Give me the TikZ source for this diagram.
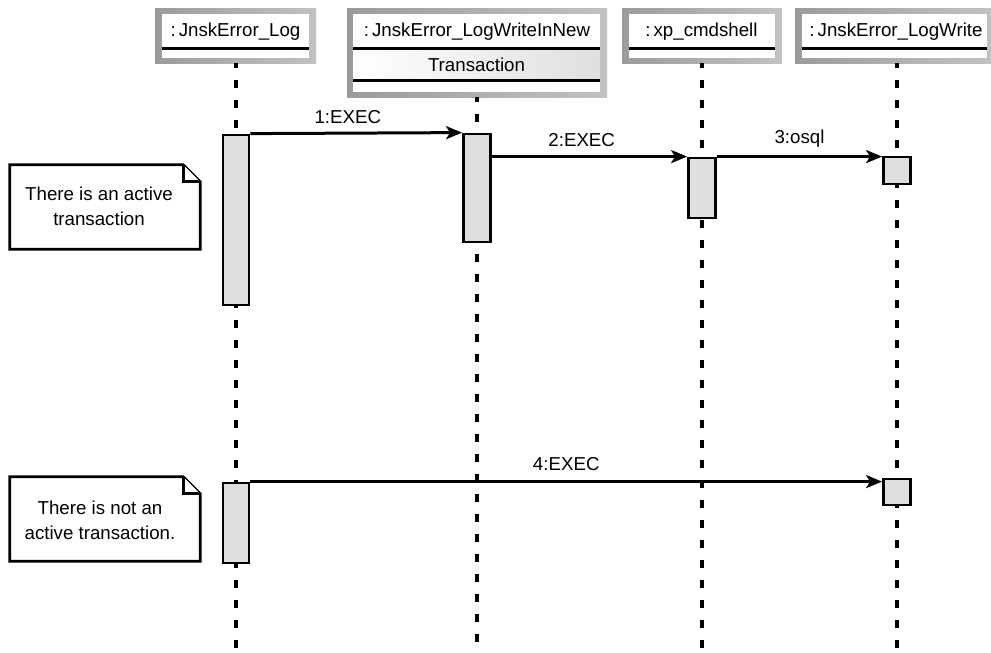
\documentclass[tikz,border=0pt]{standalone}
\usepackage{fontspec}
\setmainfont{Liberation Sans}
\usetikzlibrary{arrows.meta}
\begin{document}
\begin{tikzpicture}[x=1pt,y=-1pt,
  txt/.style={inner sep=0pt, font=\fontsize{18.7}{25}\selectfont, align=center},
  objframe/.style={rectangle, inner sep=0pt, draw=none, shading=axis,
    left color=gray!78, right color=gray!48},
  objinner/.style={rectangle, inner sep=0pt, draw=none, fill=white},
  compart/.style={rectangle, inner sep=0pt, draw=none, shading=axis,
    left color=white, middle color=white, right color=gray!25},
  sepline/.style={line width=3pt, black},
  lifeline/.style={line width=3.4pt, dash pattern=on 8pt off 12pt, dash phase=3pt},
  actbar/.style={rectangle, inner sep=0pt, draw=black, line width=2.8pt, fill=gray!25},
  msg/.style={line width=3pt, -{Stealth[length=16pt, width=13pt, inset=4pt]}},
  notefold/.style={line width=2.8pt, fill=white, line join=miter},
  notebox/.style={rectangle, inner sep=0pt, minimum width=190, minimum height=84},
]
\useasboundingbox (0,0) rectangle (991,653);

% ---- object heads -------------------------------------------------------
\node[objframe, minimum width=161, minimum height=55] (o1) at (235.5,35.5) {};
\node[objinner, minimum width=147, minimum height=44] (o1i) at (235.5,36) {};
\node[txt] (o1t) at (235.5,32) {:\hspace{3pt}JnskError\_Log};
\draw[sepline] (o1i.west |- 0,48.5) -- (o1i.east |- 0,48.5);

\node[objframe, minimum width=260, minimum height=89] (o2) at (477,52.5) {};
\node[objinner, minimum width=247, minimum height=78] (o2i) at (476.5,53) {};
\node[compart, minimum width=247, minimum height=31] (o2c) at (476.5,64.5) {};
\node[txt] (o2t) at (477,32) {:\hspace{3pt}JnskError\_LogWriteInNew};
\node[txt] (o2s) at (476.5,64.5) {Transaction};
\draw[sepline] (o2i.west |- 0,48.5) -- (o2i.east |- 0,48.5);
\draw[sepline] (o2i.west |- 0,80) -- (o2i.east |- 0,80);

\node[objframe, minimum width=160, minimum height=55] (o3) at (702,35.5) {};
\node[objinner, minimum width=146, minimum height=44] (o3i) at (702,36) {};
\node[txt] (o3t) at (701.5,32) {:\hspace{3pt}xp\_cmdshell};
\draw[sepline] (o3i.west |- 0,48.5) -- (o3i.east |- 0,48.5);

\node[objframe, minimum width=196, minimum height=55] (o4) at (893,35.5) {};
\node[objinner, minimum width=185, minimum height=44] (o4i) at (894.5,36) {};
\node[txt] (o4t) at (896,32) {:\hspace{3pt}JnskError\_LogWrite};
\draw[sepline] (o4i.west |- 0,48.5) -- (o4i.east |- 0,48.5);

% ---- activation bars (positions) ----------------------------------------
\coordinate (a1) at (236,220);
\coordinate (a2) at (477,188);
\coordinate (a3) at (702,188);
\coordinate (a4) at (897,170.5);
\coordinate (b1) at (236,523);
\coordinate (b4) at (897,492);

% ---- lifeline ends ------------------------------------------------------
\coordinate (e1) at (236,650);
\coordinate (e2) at (477,650);
\coordinate (e3) at (702,650);
\coordinate (e4) at (897,650);

% ---- lifelines (drawn first, so the bars cover them) --------------------
\draw[lifeline] (o1.south -| a1) -- (e1);
\draw[lifeline] (o2.south -| a2) -- (e2);
\draw[lifeline] (o3.south -| a3) -- (e3);
\draw[lifeline] (o4.south -| a4) -- (e4);

% ---- activation bars ----------------------------------------------------
\node[actbar, minimum width=26, minimum height=170] (A1) at (a1) {};
\node[actbar, minimum width=27, minimum height=108] (A2) at (a2) {};
\node[actbar, minimum width=27, minimum height=60]  (A3) at (a3) {};
\node[actbar, minimum width=27, minimum height=27]  (A4) at (a4) {};
\node[actbar, minimum width=26, minimum height=80]  (B1) at (b1) {};
\node[actbar, minimum width=27, minimum height=26]  (B4) at (b4) {};

% ---- messages -----------------------------------------------------------
\draw[msg] (A1.north east) -- node[txt, pos=0.46, above=8pt] (m1) {1:EXEC} (A2.north west);
\draw[msg] (A3.north west -| A2.east) -- node[txt, pos=0.46, above=8pt] (m2) {2:EXEC} (A3.north west);
\draw[msg] (A3.north east) -- node[txt, pos=0.5, above=8pt] (m3) {3:osql} (A4.west |- A3.north);
\draw[msg] (B1.north east) -- node[txt, pos=0.5, above=9pt] (m4) {4:EXEC} (B4.west |- B1.north);

% ---- notes --------------------------------------------------------------
\node[notebox] (n1) at (105,207) {};
\draw[notefold] (n1.north west) -- ([xshift=-17pt]n1.north east)
  -- ([yshift=-17pt]n1.north east) -- (n1.south east) -- (n1.south west) -- cycle;
\draw[notefold] ([xshift=-17pt]n1.north east) -- ([xshift=-17pt,yshift=-17pt]n1.north east)
  -- ([yshift=-17pt]n1.north east);
\node[txt] (n1t) at (99,206) {There is an active\\transaction};

\node[notebox] (n2) at (105,519) {};
\draw[notefold] (n2.north west) -- ([xshift=-17pt]n2.north east)
  -- ([yshift=-17pt]n2.north east) -- (n2.south east) -- (n2.south west) -- cycle;
\draw[notefold] ([xshift=-17pt]n2.north east) -- ([xshift=-17pt,yshift=-17pt]n2.north east)
  -- ([yshift=-17pt]n2.north east);
\node[txt] (n2t) at (100,520) {There is not an\\active transaction.};
\end{tikzpicture}
\end{document}
